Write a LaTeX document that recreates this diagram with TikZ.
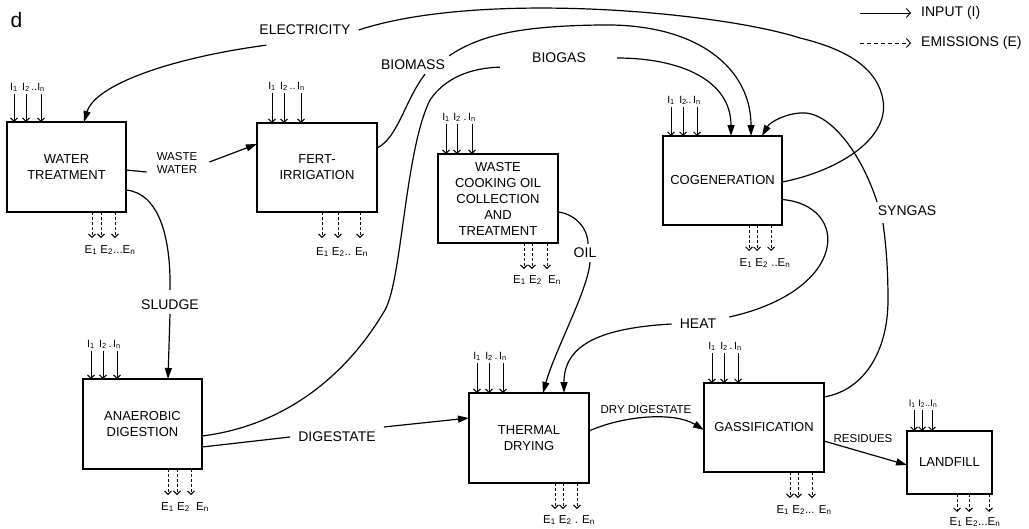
\documentclass[tikz,border=0pt]{standalone}
\usepackage{fontspec}
\setmainfont{Liberation Sans}
\usetikzlibrary{arrows.meta}
\newcommand\inarrows[5]{%
  \foreach \o in {#2,#3,#4}{\draw[inarr] ([xshift=\o pt,yshift=#5pt]#1.north west) -- ([xshift=\o pt]#1.north west);}
}
\newcommand\inflow[6]{%
  \inarrows{#1}{#2}{#3}{#4}{#5}
  \node[ilab,anchor=south] at ([xshift=#2pt,yshift=#5pt+2pt]#1.north west) {I\textsubscript{1}};
  \node[ilab,anchor=south] at ([xshift=#3pt,yshift=#5pt+2pt]#1.north west) {I\textsubscript{2}};
  \node[ilab,anchor=south] at ([xshift=#4pt,yshift=#5pt+2pt]#1.north west) {\llap{#6}I\textsubscript{n}};
}
\newcommand\outflow[8]{%
  \foreach \o in {#2,#3,#4}{\draw[emarr] ([xshift=\o pt]#1.south west) -- ([xshift=\o pt,yshift=-#5pt]#1.south west);}
  \node[elab] at ([xshift=#6pt,yshift=-#7pt]#1.south west) {#8};
}
\begin{document}
\begin{tikzpicture}[x=1pt,y=-1pt,
  box/.style={draw,line width=1.2pt,inner sep=0pt,outer sep=0pt,align=center,font=\fontsize{13}{16}\selectfont},
  lab/.style={inner xsep=8pt,inner ysep=4pt,font=\fontsize{14}{16}\selectfont},
  slab/.style={inner sep=2pt,align=center,font=\fontsize{11.5}{13}\selectfont},
  link/.style={line width=1.2pt},
  flow/.style={line width=1.2pt,-{Triangle[length=11pt,width=7pt]}},
  inarr/.style={line width=0.9pt,-{Straight Barb[length=3.5pt,width=7pt]}},
  emarr/.style={line width=0.9pt,dash pattern=on 3pt off 2pt,-{Straight Barb[length=3.5pt,width=7pt]}},
  ilab/.style={inner sep=0pt,font=\fontsize{10.5}{12}\selectfont},
  elab/.style={inner sep=0pt,font=\fontsize{11.5}{13}\selectfont},
  legfont/.style={inner sep=0pt,anchor=west,font=\fontsize{14}{16}\selectfont}]
\useasboundingbox (0,0) rectangle (1029,528);

% boxes
\node[box,minimum width=119pt,minimum height=90pt] (wt) at (66.5,167) {WATER\\TREATMENT};
\node[box,minimum width=120pt,minimum height=89pt] (fi) at (317,167.5) {FERT-\\IRRIGATION};
\node[box,minimum width=120pt,minimum height=89pt] (wco) at (498,198.5) {WASTE\\COOKING OIL\\COLLECTION\\AND\\TREATMENT};
\node[box,minimum width=119pt,minimum height=89pt] (cog) at (722.5,180.5) {COGENERATION};
\node[box,minimum width=119pt,minimum height=90pt] (ad) at (142.5,424) {ANAEROBIC\\DIGESTION};
\node[box,minimum width=120pt,minimum height=90pt] (td) at (529,438) {THERMAL\\DRYING};
\node[box,minimum width=120pt,minimum height=89pt] (gas) at (764,427.5) {GASSIFICATION};
\node[box,minimum width=85pt,minimum height=63pt] (lf) at (949.5,462.5) {LANDFILL};

% labels
\node[inner sep=0pt,font=\fontsize{21}{21}\selectfont] (dlab) at (16.5,20) {d};
\node[lab] (elec) at (305,30) {ELECTRICITY};
\node[lab] (bm) at (413,65) {BIOMASS};
\node[lab] (bg) at (559,58) {BIOGAS};
\node[slab] (ww) at (177,163) {WASTE\\WATER};
\node[lab] (sl) at (170,305) {SLUDGE};
\node[lab] (dg) at (337,437) {DIGESTATE};
\node[lab] (oil) at (585,253) {OIL};
\node[lab] (ht) at (698,324) {HEAT};
\node[lab] (sg) at (907,211) {SYNGAS};
\node[slab] (dd) at (646,410) {DRY DIGESTATE};
\node[slab] (rs) at (863,439) {RESIDUES};

% legend
\node[legfont] (lin) at (921,13) {INPUT (I)};
\node[legfont] (lem) at (921,43) {EMISSIONS (E)};
\coordinate (l1) at (860,13);
\coordinate (l2) at (860,43);
\draw[line width=0.9pt,-{Straight Barb[length=4pt,width=9pt]}] (l1) -- ([xshift=-10pt]lin.west);
\draw[line width=0.9pt,dash pattern=on 4pt off 3pt,-{Straight Barb[length=4pt,width=9pt]}] (l2) -- ([xshift=-10pt]lem.west);

% electricity
\draw[link] ([yshift=-1.5pt]cog.east) .. controls (835,172) and (890,140) .. (883,100)
  .. controls (878,70) and (850,50) .. (800,38)
  .. controls (720,12) and (480,-10) .. (elec.east);
\draw[flow] ([xshift=15pt,yshift=-6pt]elec.south west) .. controls (170,58) and (95,85) .. ([xshift=77pt]wt.north west);

% biomass
\draw[link] ([yshift=19.5pt]fi.east) .. controls (398,138) and (405,100) .. ([xshift=12pt]bm.south);
\draw[flow] ([xshift=-4pt]bm.north east) .. controls (480,35) and (520,26) .. (600,25)
  .. controls (700,23) and (751,70) .. ([xshift=88pt]cog.north west);

% biogas
\draw[link] ([yshift=-12pt]ad.east) .. controls (290,425) and (350,370) .. (385,310)
  .. controls (402,280) and (405,150) .. (430,100)
  .. controls (445,78) and (470,68) .. ([xshift=-24pt]bg.south west);
\draw[flow] ([xshift=23pt]bg.east) .. controls (680,58) and (731,80) .. ([xshift=68pt]cog.north west);

% waste water
\draw[link] ([yshift=-3pt]wt.east) -- ([xshift=-8pt,yshift=-9pt]ww.west);
\draw[flow] ([xshift=10pt,yshift=1pt]ww.east) -- ([yshift=23.5pt]fi.west);

% sludge
\draw[link] ([yshift=-23pt]wt.east) .. controls (158,193) and (171,235) .. ([yshift=6pt]sl.north);
\draw[flow] (sl.south) -- ([xshift=85pt]ad.north west);

% digestate
\draw[link] ([yshift=-23pt]ad.east) -- (dg.west);
\draw[flow] ([yshift=10pt]dg.east) -- ([yshift=20pt]td.west);

% oil
\draw[link] ([yshift=-13.5pt]wco.east) .. controls (575,214) and (588,228) .. ([xshift=3pt]oil.north);
\draw[flow] ([xshift=5pt]oil.south) .. controls (588,290) and (555,350) .. ([xshift=74pt]td.north west);

% heat
\draw[link] ([yshift=-19pt]cog.east) .. controls (850,205) and (850,290) .. ([xshift=5pt,yshift=7pt]ht.east);
\draw[flow] (ht.west) .. controls (600,328) and (564,345) .. ([xshift=95pt]td.north west);

% dry digestate
\draw[flow] ([yshift=7pt]td.east) .. controls (625,415) and (675,412) .. ([yshift=-2.5pt]gas.west);

% syngas
\draw[link] ([yshift=30.5pt]gas.east) .. controls (865,390) and (888,350) .. (888,300)
  .. controls (888,268) and (886,245) .. ([xshift=-24pt,yshift=-3pt]sg.south);
\draw[flow] ([xshift=-30pt]sg.north) .. controls (862,155) and (830,110) .. (800,113)
  .. controls (785,114) and (770,122) .. ([xshift=99pt]cog.north west);

% residues
\draw[flow] ([yshift=-13.5pt]gas.east) -- ([yshift=-2.5pt]lf.west);

% inputs
\inflow{wt}{7}{19}{34}{28}{..}
\inflow{fi}{15}{27}{44}{30}{..\,}
\inflow{wco}{8}{19}{34}{30}{.\,}
\inflow{cog}{8}{20}{34}{29}{..\,}
\inflow{ad}{8}{20}{34}{28}{.\,}
\inflow{td}{8}{20}{34}{30}{.\,}
\inflow{gas}{8}{20}{34}{30}{.\,}
\inarrows{lf}{7}{15}{25}{21}
\node[ilab,anchor=south,font=\fontsize{9.5}{11}\selectfont] (lfin) at ([xshift=16pt,yshift=23pt]lf.north west) {I\textsubscript{1} I\textsubscript{2}..I\textsubscript{n}};

% emissions
\outflow{wt}{85}{94}{108}{26}{103}{38}{E\textsubscript{1} E\textsubscript{2}...E\textsubscript{n}}
\outflow{fi}{65}{81}{103}{26}{85}{40}{E\textsubscript{1} E\textsubscript{2}.. E\textsubscript{n}}
\outflow{wco}{86}{94}{109}{26}{99}{37}{E\textsubscript{1} E\textsubscript{2} \ E\textsubscript{n}}
\outflow{cog}{86}{94}{108}{26}{102}{38}{E\textsubscript{1} E\textsubscript{2} ..E\textsubscript{n}}
\outflow{ad}{85}{94}{108}{26}{102}{38}{E\textsubscript{1} E\textsubscript{2} \ E\textsubscript{n}}
\outflow{td}{86}{94}{108}{26}{100}{37}{E\textsubscript{1} E\textsubscript{2} . E\textsubscript{n}}
\outflow{gas}{86}{94}{108}{26}{100}{38}{E\textsubscript{1} E\textsubscript{2}... E\textsubscript{n}}
\outflow{lf}{50}{62}{82}{18}{68}{28}{E\textsubscript{1} E\textsubscript{2}...E\textsubscript{n}}
\end{tikzpicture}
\end{document}
